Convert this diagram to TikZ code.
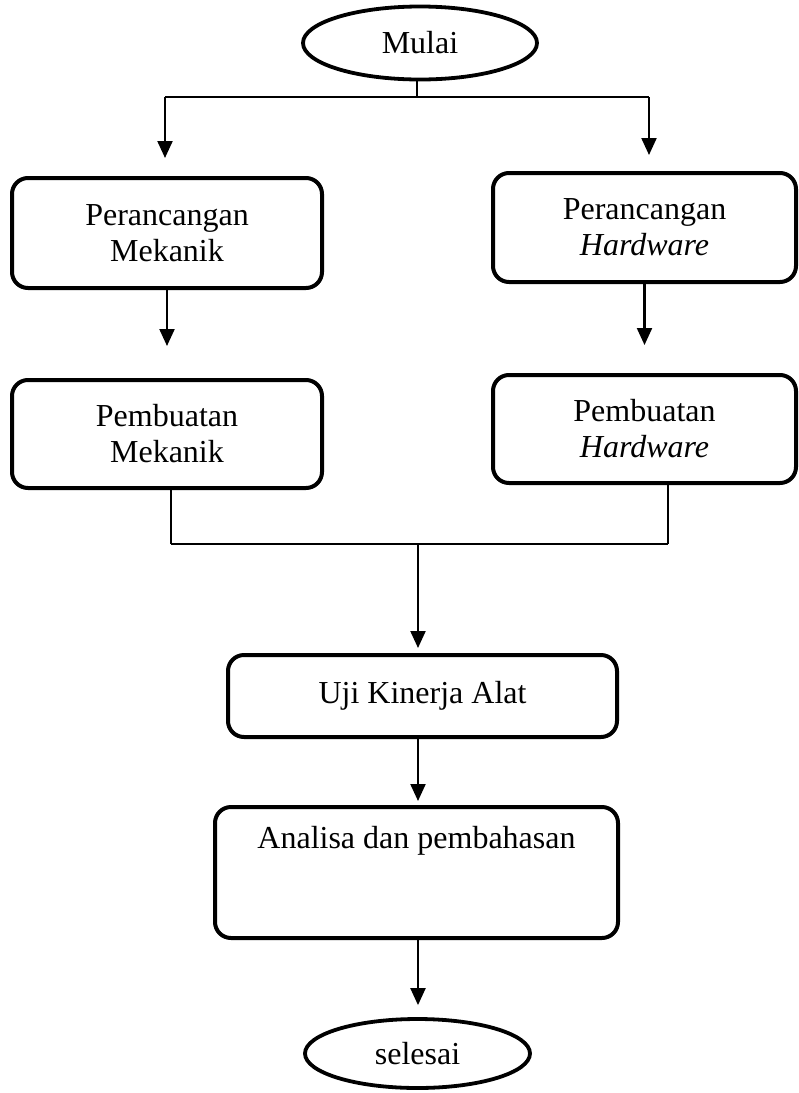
\documentclass[tikz,border=0pt]{standalone}
\usepackage{fontspec}
\setmainfont{Liberation Serif}
\usetikzlibrary{arrows.meta,shapes.geometric}
\tikzset{
  flowbox/.style={draw, line width=4pt, rounded corners=16pt, align=center,
    font=\fontsize{32}{36}\selectfont, inner sep=0pt},
  term/.style={draw, ellipse, line width=3.8pt, inner sep=0pt,
    font=\fontsize{32}{36}\selectfont},
  conn/.style={line width=2.2pt},
  hconn/.style={line width=1.6pt},
  arr/.style={line width=2.2pt, -{Triangle[width=15pt,length=17pt]}},
}
\begin{document}
\begin{tikzpicture}[x=1pt,y=-1pt]
\useasboundingbox (0,0) rectangle (799,1093);
\node[term, minimum width=234, minimum height=73] (mulai) at (420,43) {Mulai};
\node[flowbox, minimum width=310, minimum height=110] (pm) at (167,233) {Perancangan\\Mekanik};
\node[flowbox, minimum width=303, minimum height=109] (ph) at (644.5,227.5) {Perancangan\\\textit{Hardware}};
\node[flowbox, minimum width=310, minimum height=108] (bm) at (167,434) {Pembuatan\\Mekanik};
\node[flowbox, minimum width=303, minimum height=108] (bh) at (644.5,429) {Pembuatan\\\textit{Hardware}};
\node[flowbox, minimum width=389, minimum height=82] (uji) at (422.5,696) {Uji Kinerja Alat};
\node[flowbox, minimum width=403, minimum height=131,
  label={[anchor=center, font=\fontsize{32}{36}\selectfont, yshift=-36pt]north:Analisa dan pembahasan}] (ana) at (416.5,872.5) {};
\node[term, minimum width=225, minimum height=69] (selesai) at (417.5,1053.5) {selesai};

\coordinate (top) at (417,97);
\coordinate (tl) at (165,97);
\coordinate (tr) at (649,97);
\draw[conn] (mulai.south -| top) -- (top);
\draw[hconn] (tl) -- (tr);
\draw[arr] (tl) -- (165,158);
\draw[arr] (tr) -- (649,155);

\draw[arr, shorten >=32pt] (pm.south) -- (bm.north);
\draw[arr, shorten >=28pt] (ph.south) -- (bh.north);

\coordinate (bl) at (171,544);
\coordinate (br) at (668,544);
\coordinate (bmid) at (418,544);
\draw[conn] (bm.south -| bl) -- (bl);
\draw[conn] (bh.south -| br) -- (br);
\draw[hconn] (bl) -- (br);
\draw[arr, shorten >=5pt] (bmid) -- (uji.north -| bmid);
\draw[arr, shorten >=4pt] (uji.south -| bmid) -- (ana.north -| bmid);
\draw[arr, shorten >=12pt] (ana.south -| bmid) -- (selesai.north -| bmid);
\end{tikzpicture}
\end{document}
